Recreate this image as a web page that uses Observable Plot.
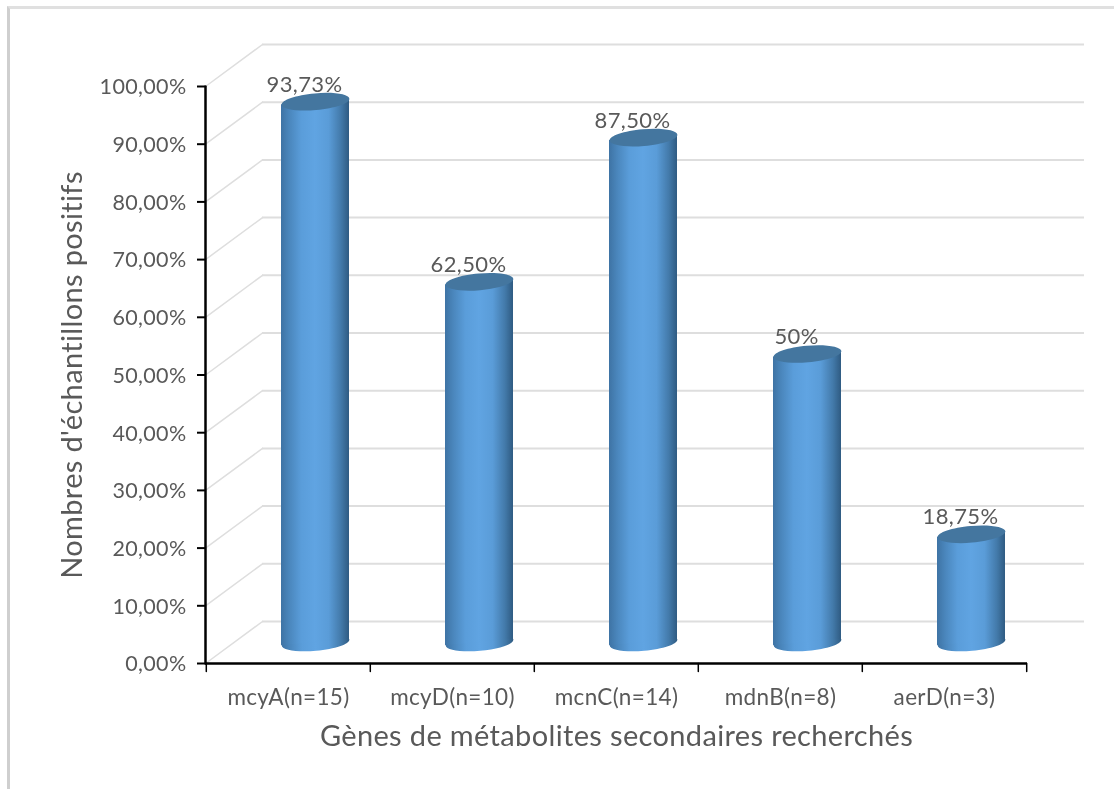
<!DOCTYPE html>
<html lang="fr">
<head>
<meta charset="utf-8">
<script src="https://cdn.jsdelivr.net/npm/d3@7"></script>
<script src="https://cdn.jsdelivr.net/npm/@observablehq/plot@0.6"></script>
<style>
  html, body { margin: 0; padding: 0; background: #fff; }
  #sheet { position: absolute; left: 7px; top: 6px; width: 1107px; height: 783px; box-sizing: border-box;
           border-left: 3px solid #cfcfcf; border-top: 3px solid #e0e0e0; }
  #chart { position: absolute; left: 0; top: 0; filter: blur(0.4px); }
  #chart svg text { letter-spacing: 0.35px; }
</style>
</head>
<body>
<div id="sheet"></div>
<div id="chart"></div>
<script>
const genes = ["mcyA(n=15)", "mcyD(n=10)", "mcnC(n=14)", "mdnB(n=8)", "aerD(n=3)"];
const values = [93.73, 62.5, 87.5, 50, 18.75];
const valueLabels = ["93,73%", "62,50%", "87,50%", "50%", "18,75%"];
const yTicks = [0, 10, 20, 30, 40, 50, 60, 70, 80, 90, 100];
const yTickLabels = ["0,00%", "10,00%", "20,00%", "30,00%", "40,00%", "50,00%", "60,00%", "70,00%", "80,00%", "90,00%", "100,00%"];
const yTitle = "Nombres d'échantillons positifs";
const xTitle = "Gènes de métabolites secondaires recherchés";

const rows = genes.map((gene, i) => ({gene, value: values[i], label: valueLabels[i]}));

const font = "Lato, 'Open Sans', sans-serif";
const textColor = "#595959";
const gridColor = "#dedede";
const tilt = -5 * Math.PI / 180;
const squash = 0.245;

// Tilted ellipse: the cap of a cylinder, sized by the dot's r.
const capSymbol = {
  draw(ctx, size) {
    const rx = Math.sqrt(size / Math.PI), ry = rx * squash, k = 0.5523;
    const c = Math.cos(tilt), s = Math.sin(tilt);
    const p = (x, y) => [x * c - y * s, x * s + y * c];
    ctx.moveTo(...p(rx, 0));
    ctx.bezierCurveTo(...p(rx, k * ry), ...p(k * rx, ry), ...p(0, ry));
    ctx.bezierCurveTo(...p(-k * rx, ry), ...p(-rx, k * ry), ...p(-rx, 0));
    ctx.bezierCurveTo(...p(-rx, -k * ry), ...p(-k * rx, -ry), ...p(0, -ry));
    ctx.bezierCurveTo(...p(k * rx, -ry), ...p(rx, -k * ry), ...p(rx, 0));
    ctx.closePath();
  }
};
const stickShape = {draw(ctx, l) { ctx.moveTo(0, 0); ctx.lineTo(0, -l); }};

// Gradient shared by cylinder bodies and bottom caps.
function gradients() {
  const defs = d3.create("svg:defs");
  const g = defs.append("linearGradient").attr("id", "cyl").attr("x1", 0).attr("x2", 1).attr("y1", 0).attr("y2", 0);
  [[0, "#3e73a4"], [0.12, "#4a86bc"], [0.3, "#5a9dda"], [0.5, "#60a4e2"], [0.7, "#5a9cd8"], [0.88, "#437aaa"], [1, "#2f5b82"]]
    .forEach(([o, c]) => g.append("stop").attr("offset", o).attr("stop-color", c));
  return defs.node();
}

// Shear each cylinder body so that its ends follow the tilted caps.
function shearBars(index, scales, values, dimensions, context, next) {
  const g = next(index, scales, values, dimensions, context);
  d3.select(g).selectAll("rect").attr("transform", function () {
    const x = +this.getAttribute("x") + this.getAttribute("width") / 2;
    const y = +this.getAttribute("y") + this.getAttribute("height") / 2;
    return `translate(${x},${y}) skewY(-5) translate(${-x},${-y})`;
  });
  return g;
}

const depthX = 57, depthY = -42;
const shiftX = 27, shiftY = -21;
const bodyInset = 48;

const chart = Plot.plot({
  width: 1114,
  height: 789,
  marginLeft: 205,
  marginRight: 87,
  marginTop: 86,
  marginBottom: 126,
  style: {background: "transparent", fontFamily: font},
  x: {domain: genes, padding: 0, label: null},
  y: {domain: [0, 100], label: null},
  marks: [
    gradients,
    // back wall gridlines and their side-wall returns
    Plot.ruleY(yTicks, {dx: depthX, dy: depthY, stroke: gridColor, strokeWidth: 2}),
    Plot.vector(yTicks, {
      y: d => d, frameAnchor: "left", anchor: "start",
      length: Math.hypot(depthX, depthY), rotate: 53.6,
      shape: stickShape, stroke: gridColor, strokeWidth: 1.5
    }),
    // cylinders
    Plot.dot(rows, {x: "gene", y: () => 0, dx: shiftX, dy: shiftY, r: 34, symbol: capSymbol, fill: "url(#cyl)", stroke: "none"}),
    Plot.barY(rows, {
      x: "gene", y1: () => 0, y2: "value", dx: shiftX, dy: shiftY,
      insetLeft: bodyInset, insetRight: bodyInset, fill: "url(#cyl)", render: shearBars
    }),
    Plot.dot(rows, {x: "gene", y: "value", dx: shiftX, dy: shiftY, r: 34, symbol: capSymbol, fill: "#44769f", stroke: "none"}),
    // value labels
    Plot.text(rows, {x: "gene", y: "value", text: "label", dx: 16, dy: -38, fontSize: 22, fill: textColor}),
    // axes
    Plot.vector([0], {
      y: d => d, frameAnchor: "left", anchor: "start", length: 577, rotate: 0,
      shape: stickShape, stroke: "#000", strokeWidth: 2.5
    }),
    Plot.ruleY([0], {stroke: "#000", strokeWidth: 2.5}),
    Plot.axisY({
      ticks: yTicks, tickFormat: () => "", tickSize: 8, stroke: "#000", strokeWidth: 2, label: null
    }),
    Plot.axisY({
      ticks: yTicks, tickFormat: d => yTickLabels[yTicks.indexOf(d)],
      tickSize: 0, tickPadding: 19, dy: 1, fontSize: 21.5, fill: textColor, label: null
    }),
    Plot.axisX({tickSize: 0, tickPadding: 26, fontSize: 22.5, fill: textColor, label: null}),
    Plot.vector(genes, {
      x: d => d, frameAnchor: "bottom", anchor: "start", dx: -82.2, length: 8, rotate: 180,
      shape: stickShape, stroke: "#000", strokeWidth: 1.5
    }),
    Plot.vector(genes.slice(-1), {
      x: d => d, frameAnchor: "bottom", anchor: "start", dx: 82.2, length: 8, rotate: 180,
      shape: stickShape, stroke: "#000", strokeWidth: 1.5
    }),
    // titles
    Plot.text([yTitle], {frameAnchor: "left", textAnchor: "middle", dx: -133, rotate: -90, fontSize: 29, fill: textColor, text: d => d}),
    Plot.text([xTitle], {frameAnchor: "bottom", dy: 82, fontSize: 29, fill: textColor, text: d => d})
  ]
});
document.getElementById("chart").append(chart);
</script>
</body>
</html>
